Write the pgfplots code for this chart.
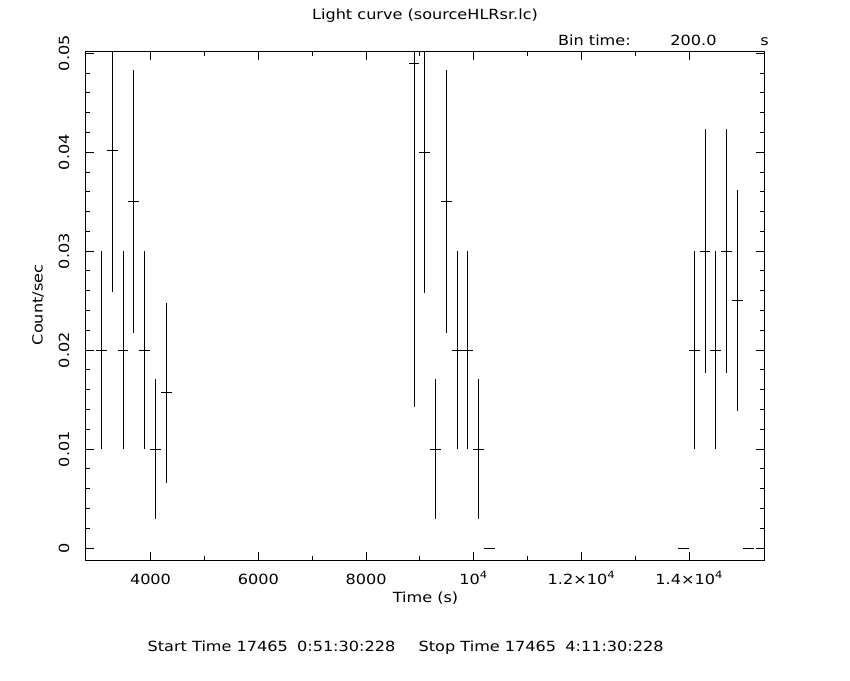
\documentclass[border=0pt]{standalone}
\usepackage{fontspec}
\setmainfont{DejaVu Sans}[FakeStretch=1.15]
\usepackage{pgfplots}
\usepackage{pgfplotstable}
\pgfplotsset{compat=1.18}
\pgfplotstableread{
x y ex ey
3090 0.0200 100 0.0100
3290 0.0402 100 0.0143
3490 0.0200 100 0.0100
3690 0.0350 100 0.0133
3890 0.0200 100 0.0100
4090 0.0100 100 0.0071
4290 0.0157 100 0.0091
8890 0.0490 100 0.0347
9090 0.0400 100 0.0142
9290 0.0100 100 0.0071
9490 0.0350 100 0.0133
9690 0.0200 100 0.0100
9890 0.0200 100 0.0100
10090 0.0100 100 0.0071
10290 0.0000 100 0.0000
13890 0.0000 100 0.0000
14090 0.0200 100 0.0100
14290 0.0300 100 0.0123
14490 0.0200 100 0.0100
14690 0.0300 100 0.0123
14890 0.0250 100 0.0112
15090 0.0000 100 0.0000
}\lcdata
\begin{document}
\begin{tikzpicture}[font=\fontsize{7}{8.4}\selectfont]
\path[use as bounding box] (0,0) rectangle (425pt,340pt);
\begin{axis}[
  scale only axis,
  width=339.5pt, height=254.5pt,
  at={(42.65pt,59.85pt)}, anchor=south west,
  xmin=2790, xmax=15390,
  ymin=-0.00124, ymax=0.0502,
  scaled ticks=false,
  xtick={4000,6000,8000,10000,12000,14000},
  xticklabels={4000,6000,8000,10\textsuperscript{4},1.2×10\textsuperscript{4},1.4×10\textsuperscript{4}},
  ytick={0,0.01,0.02,0.03,0.04,0.05},
  yticklabels={0,0.01,0.02,0.03,0.04,0.05},
  minor x tick num=1,
  minor y tick num=4,
  tick pos=both,
  tick align=inside,
  major tick length=4.3pt,
  minor tick length=2.3pt,
  axis line style={line width=0.5pt, black},
  every tick/.style={line width=0.5pt, black},
  tick label style={font=\fontsize{7}{8.4}\selectfont},
  xticklabel style={anchor=north, text height=8.4pt, text depth=0pt},
  yticklabel style={rotate=90, anchor=south},
  yticklabel shift=4.4pt,
  clip=true,
]
\addplot[draw=none, mark=none,
  error bars/.cd, x dir=both, x explicit, y dir=both, y explicit,
  error mark=none,
  error bar style={line width=0.5pt, draw=black, solid}]
  table[x=x, y=y, x error=ex, y error=ey] {\lcdata};
\end{axis}
% title and annotations (coordinates in pt, 1 px = 0.5 pt)
\node[anchor=base, inner sep=0pt] at (212.5pt,330pt) {Light curve (sourceHLRsr.lc)};
\node[anchor=base west, inner sep=0pt] at (278.85pt,317.15pt) {Bin time:};
\node[anchor=base west, inner sep=0pt] at (335pt,317.15pt) {200.0};
\node[anchor=base west, inner sep=0pt] at (380pt,317.15pt) {s};
\node[anchor=base, inner sep=0pt] at (212.75pt,39pt) {Time (s)};
\node[rotate=90, anchor=base, inner sep=0pt] at (21.35pt,187.5pt) {Count/sec};
\node[anchor=base west, inner sep=0pt] at (73.65pt,14.15pt) {Start Time 17465};
\node[anchor=base west, inner sep=0pt] at (148.35pt,14.15pt) {0:51:30:228};
\node[anchor=base west, inner sep=0pt] at (209.15pt,14.15pt) {Stop Time 17465};
\node[anchor=base west, inner sep=0pt] at (282.5pt,14.15pt) {4:11:30:228};
\end{tikzpicture}
\end{document}
